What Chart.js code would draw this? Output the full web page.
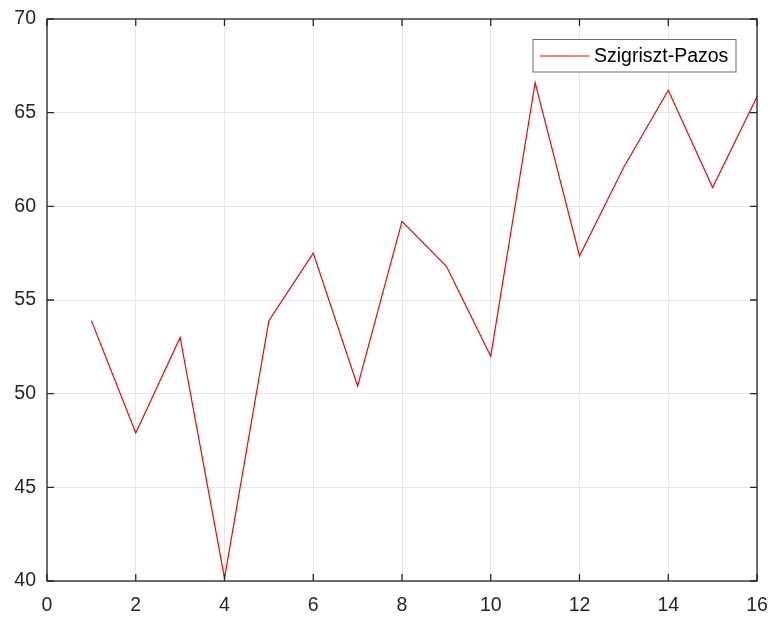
<!DOCTYPE html>
<html>
<head>
<meta charset="utf-8">
<script src="https://cdn.jsdelivr.net/npm/chart.js@4/dist/chart.umd.min.js"></script>
<style>
  html, body { margin: 0; padding: 0; background: #ffffff; }
  #chartCanvas { display: block; }
</style>
</head>
<body>
<canvas id="chartCanvas" width="772" height="617"></canvas>
<script>
(function() {

  // ── Data ──
  var xValues = [1, 2, 3, 4, 5, 6, 7, 8, 9, 10, 11, 12, 13, 14, 15, 16];
  var scoreValues = [53.9, 47.9, 53.0, 40.15, 53.9, 57.5, 50.4, 59.2, 56.8, 52.0, 66.6, 57.35, 62.1, 66.2, 61.0, 65.85];
  var seriesLabel = 'Szigriszt-Pazos';
  var xTicks = [0, 2, 4, 6, 8, 10, 12, 14, 16];
  var yTicks = [40, 45, 50, 55, 60, 65, 70];

  var axisColor = '#262626';
  var gridColor = '#e6e6e6';
  var fontFamily = '"Liberation Sans", Arial, Helvetica, sans-serif';

  var points = xValues.map(function(x, i) { return { x: x, y: scoreValues[i] }; });

  // ── Box frame with inward ticks on all four sides ──
  var framePlugin = {
    id: 'frame',
    afterDatasetsDraw: function(chart) {
      var ctx = chart.ctx;
      var a = chart.chartArea;
      var xs = chart.scales.x;
      var ys = chart.scales.y;
      var tl = 7;
      ctx.save();
      ctx.strokeStyle = axisColor;
      ctx.lineWidth = 1.3;
      ctx.strokeRect(a.left, a.top, a.right - a.left, a.bottom - a.top);
      ctx.beginPath();
      xTicks.forEach(function(v) {
        var px = xs.getPixelForValue(v);
        ctx.moveTo(px, a.bottom); ctx.lineTo(px, a.bottom - tl);
        ctx.moveTo(px, a.top); ctx.lineTo(px, a.top + tl);
      });
      yTicks.forEach(function(v) {
        var py = ys.getPixelForValue(v);
        ctx.moveTo(a.left, py); ctx.lineTo(a.left + tl, py);
        ctx.moveTo(a.right, py); ctx.lineTo(a.right - tl, py);
      });
      ctx.stroke();
      ctx.restore();
    }
  };

  // ── MATLAB-style legend box in the upper right ──
  var legendPlugin = {
    id: 'boxLegend',
    afterDraw: function(chart) {
      var ctx = chart.ctx;
      var ds = chart.data.datasets[0];
      var bx = 533, by = 39.5, bw = 203, bh = 32.5;
      ctx.save();
      ctx.fillStyle = '#ffffff';
      ctx.fillRect(bx, by, bw, bh);
      ctx.strokeStyle = '#6e6e6e';
      ctx.lineWidth = 1;
      ctx.strokeRect(bx, by, bw, bh);
      ctx.strokeStyle = ds.borderColor;
      ctx.lineWidth = 1;
      ctx.beginPath();
      ctx.moveTo(540, 56);
      ctx.lineTo(589, 56);
      ctx.stroke();
      ctx.fillStyle = '#000000';
      ctx.font = '19.5px ' + fontFamily;
      ctx.textBaseline = 'middle';
      ctx.textAlign = 'left';
      ctx.fillText(ds.label, 594, 57);
      ctx.restore();
    }
  };

  var ctx = document.getElementById('chartCanvas').getContext('2d');
  new Chart(ctx, {
    type: 'line',
    data: {
      datasets: [{
        label: seriesLabel,
        data: points,
        borderColor: '#ff0000',
        borderWidth: 1.2,
        pointRadius: 0,
        tension: 0,
        fill: false
      }]
    },
    options: {
      responsive: false,
      animation: false,
      layout: { padding: { top: 19, right: 15, left: 0, bottom: 0 } },
      plugins: {
        legend: { display: false },
        tooltip: { enabled: false }
      },
      scales: {
        x: {
          type: 'linear',
          min: 0,
          max: 16,
          afterFit: function(scale) {
            scale.height = 36;
            scale.paddingLeft = 0;
            scale.paddingRight = 0;
          },
          afterBuildTicks: function(scale) {
            scale.ticks = xTicks.map(function(v) { return { value: v }; });
          },
          border: { display: false },
          grid: { color: gridColor, lineWidth: 1, drawTicks: false },
          ticks: {
            color: axisColor,
            padding: 13,
            maxRotation: 0,
            font: { family: fontFamily, size: 19.5 }
          }
        },
        y: {
          min: 40,
          max: 70,
          afterFit: function(scale) {
            scale.width = 47;
            scale.paddingTop = 0;
            scale.paddingBottom = 0;
          },
          afterBuildTicks: function(scale) {
            scale.ticks = yTicks.map(function(v) { return { value: v }; });
          },
          border: { display: false },
          grid: { color: gridColor, lineWidth: 1, drawTicks: false },
          ticks: {
            color: axisColor,
            padding: 11,
            font: { family: fontFamily, size: 19.5 }
          }
        }
      }
    },
    plugins: [framePlugin, legendPlugin]
  });

})();
</script>
</body>
</html>
